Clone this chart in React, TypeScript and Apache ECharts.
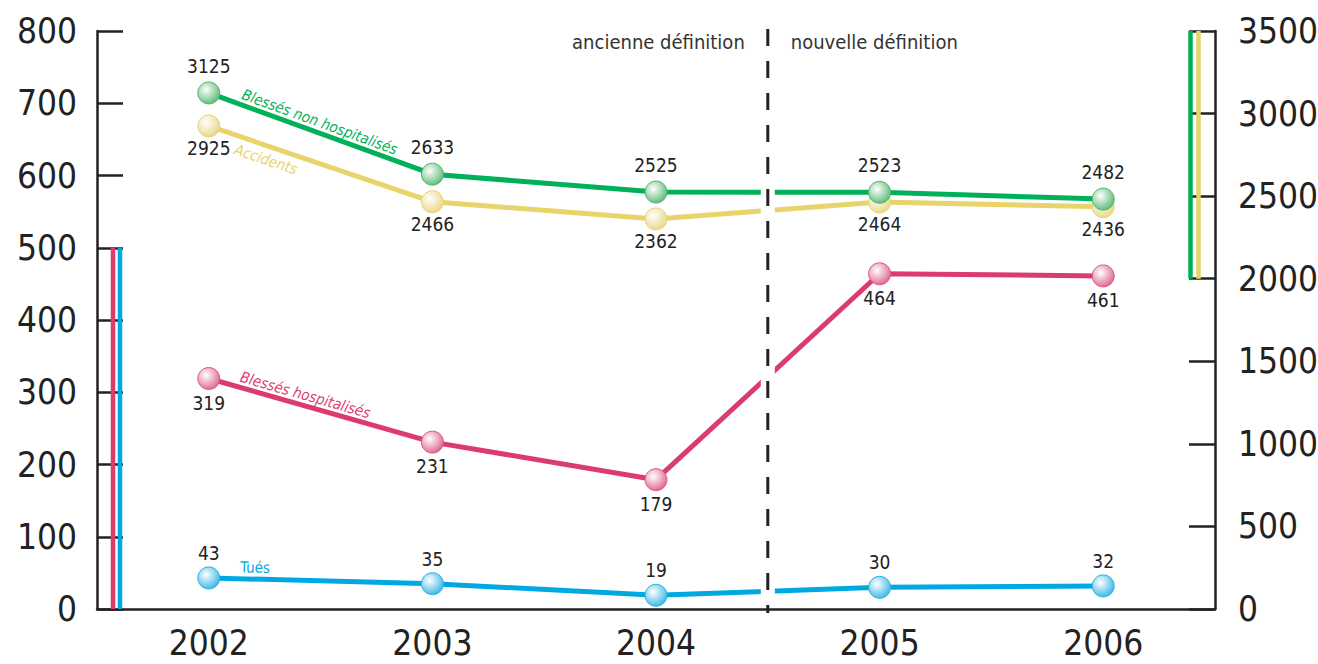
import React, { useEffect, useRef } from "react";
import * as echarts from "echarts";

const years = ["2002", "2003", "2004", "2005", "2006"];
const tues = [43, 35, 19, 30, 32];
const blessesHosp = [319, 231, 179, 464, 461];
const blessesNonHosp = [3125, 2633, 2525, 2523, 2482];
const accidents = [2925, 2466, 2362, 2464, 2436];

const leftAxis = { min: 0, max: 800, interval: 100 };
const rightAxis = { min: 0, max: 3500, interval: 500 };

const FONT = '"DejaVu Sans Condensed", "Liberation Sans Narrow", "Roboto", sans-serif';
const INK = "#222222";

const C_BLUE = "#00a8e1";
const C_PINK = "#dc3b6e";
const C_GREEN = "#00b159";
const C_YELLOW = "#e8d46a";

function sphere(edge: string) {
  return {
    type: "radial",
    x: 0.38,
    y: 0.35,
    r: 0.75,
    colorStops: [
      { offset: 0, color: "#ffffff" },
      { offset: 1, color: edge },
    ],
  };
}

function lineSeries(
  name: string,
  data: number[],
  yAxisIndex: number,
  color: string,
  sphereEdge: string,
  labelPos: "top" | "bottom",
  labelDist: number
) {
  return {
    name,
    type: "line",
    yAxisIndex,
    data,
    symbol: "circle",
    symbolSize: 22,
    lineStyle: { color, width: 5 },
    itemStyle: { color: sphere(sphereEdge) as any, borderColor: sphereEdge, borderWidth: 1 },
    label: {
      show: true,
      position: labelPos,
      distance: labelDist,
      color: INK,
      fontFamily: FONT,
      fontSize: 19,
    },
    emphasis: { disabled: true },
    z: 3,
  };
}

export default function App() {
  const ref = useRef<HTMLDivElement>(null);

  useEffect(() => {
    if (!ref.current) return;
    const chart = echarts.init(ref.current, undefined, { renderer: "svg" });

    const axisLabelStyle = {
      color: INK,
      fontFamily: FONT,
      fontSize: 35,
      formatter: (v: any) => String(v),
    };

    chart.setOption({
      animation: false,
      textStyle: { fontFamily: FONT },
      grid: {
        left: 97,
        right: 103,
        top: 31,
        bottom: 55,
        containLabel: false,
        outerBoundsMode: "none",
      },
      xAxis: {
        type: "category",
        data: years,
        boundaryGap: true,
        axisLine: { lineStyle: { color: INK, width: 2.5 } },
        axisTick: { inside: true, length: 8, lineStyle: { color: INK, width: 2 } },
        axisLabel: { ...axisLabelStyle, margin: 16 },
        splitLine: { show: false },
      },
      yAxis: [
        {
          type: "value",
          position: "left",
          ...leftAxis,
          axisLine: { show: true, lineStyle: { color: INK, width: 2.5 } },
          axisTick: { show: true, inside: true, length: 26, lineStyle: { color: INK, width: 2.5 } },
          axisLabel: { ...axisLabelStyle, margin: 20 },
          splitLine: { show: false },
        },
        {
          type: "value",
          position: "right",
          ...rightAxis,
          axisLine: { show: true, lineStyle: { color: INK, width: 2.5 } },
          axisTick: { show: true, inside: true, length: 26, lineStyle: { color: INK, width: 2.5 } },
          axisLabel: { ...axisLabelStyle, margin: 23 },
          splitLine: { show: false },
        },
      ],
      series: [
        lineSeries("Tués", tues, 0, C_BLUE, "#2ab0e4", "top", 4),
        lineSeries("Blessés hospitalisés", blessesHosp, 0, C_PINK, "#dc5883", "bottom", 3),
        lineSeries("Accidents", accidents, 1, C_YELLOW, "#e6d47a", "bottom", 1),
        lineSeries("Blessés non hospitalisés", blessesNonHosp, 1, C_GREEN, "#4fb46c", "top", 6),
      ],
    });

    const px = (si: number, xi: number, v: number) =>
      chart.convertToPixel({ seriesIndex: si }, [years[xi], v]) as number[];

    const x2004 = px(0, 2, 0)[0];
    const x2005 = px(0, 3, 0)[0];
    const band = x2005 - x2004;
    const mid = (x2004 + x2005) / 2;
    const xLeft = px(0, 0, 0)[0] - band / 2;
    const xRight = px(0, 4, 0)[0] + band / 2;
    const yL = (v: number) => chart.convertToPixel({ yAxisIndex: 0 }, v) as number;
    const yR = (v: number) => chart.convertToPixel({ yAxisIndex: 1 }, v) as number;
    const yTop = yL(leftAxis.max);
    const yBottom = yL(0);

    const seriesLabel = (
      si: number,
      data: number[],
      text: string,
      color: string,
      along: number,
      offset: number,
      above: boolean,
      italic: boolean
    ) => {
      const p0 = px(si, 0, data[0]);
      const p1 = px(si, 1, data[1]);
      const dx = p1[0] - p0[0];
      const dy = p1[1] - p0[1];
      const len = Math.hypot(dx, dy);
      const ux = dx / len;
      const uy = dy / len;
      const nx = uy;
      const ny = -ux;
      const s = above ? offset : -offset;
      return {
        type: "text",
        x: p0[0] + ux * along + nx * s,
        y: p0[1] + uy * along + ny * s,
        rotation: -Math.atan2(dy, dx),
        z: 70,
        style: {
          text,
          fill: color,
          font: `${italic ? "italic " : ""}15px ${FONT}`,
          textAlign: "left",
          textVerticalAlign: above ? "bottom" : "top",
          align: "left",
          verticalAlign: above ? "bottom" : "top",
        },
      };
    };

    const vbar = (x: number, y1: number, y2: number, color: string) => ({
      type: "line",
      z: 40,
      shape: { x1: x, y1, x2: x, y2 },
      style: { stroke: color, lineWidth: 4.5 },
    });

    chart.setOption({
      graphic: [
        {
          type: "rect",
          z: 50,
          shape: { x: mid - 7, y: yTop, width: 14, height: yBottom - yTop - 5 },
          style: { fill: "#ffffff" },
        },
        {
          type: "line",
          z: 60,
          shape: { x1: mid, y1: yTop - 2, x2: mid, y2: yBottom + 4 },
          style: { stroke: INK, lineWidth: 3, lineDash: [17, 15] },
        },
        {
          type: "text",
          z: 60,
          x: mid - 23,
          y: yTop + 11,
          style: {
            text: "ancienne définition",
            fill: "#333333",
            font: `20px ${FONT}`,
            textAlign: "right",
            textVerticalAlign: "middle",
            align: "right",
            verticalAlign: "middle",
          },
        },
        {
          type: "text",
          z: 60,
          x: mid + 23,
          y: yTop + 11,
          style: {
            text: "nouvelle définition",
            fill: "#333333",
            font: `20px ${FONT}`,
            textAlign: "left",
            textVerticalAlign: "middle",
            align: "left",
            verticalAlign: "middle",
          },
        },
        vbar(xLeft + 16, yL(500), yL(0), C_PINK),
        vbar(xLeft + 23, yL(500), yL(0), C_BLUE),
        vbar(xRight - 24.5, yR(3500), yR(2000), C_GREEN),
        vbar(xRight - 16.5, yR(3500), yR(2000), C_YELLOW),
        seriesLabel(3, blessesNonHosp, "Blessés non hospitalisés", C_GREEN, 32, 3, true, true),
        seriesLabel(2, accidents, "Accidents", C_YELLOW, 32, 6, false, true),
        seriesLabel(1, blessesHosp, "Blessés hospitalisés", C_PINK, 30, 3, true, true),
        seriesLabel(0, tues, "Tués", C_BLUE, 31, 4, true, false),
      ],
    });

    return () => chart.dispose();
  }, []);

  return (
    <div
      ref={ref}
      style={{ position: "fixed", left: 0, top: 0, width: 1318, height: 664, background: "#ffffff" }}
    />
  );
}
